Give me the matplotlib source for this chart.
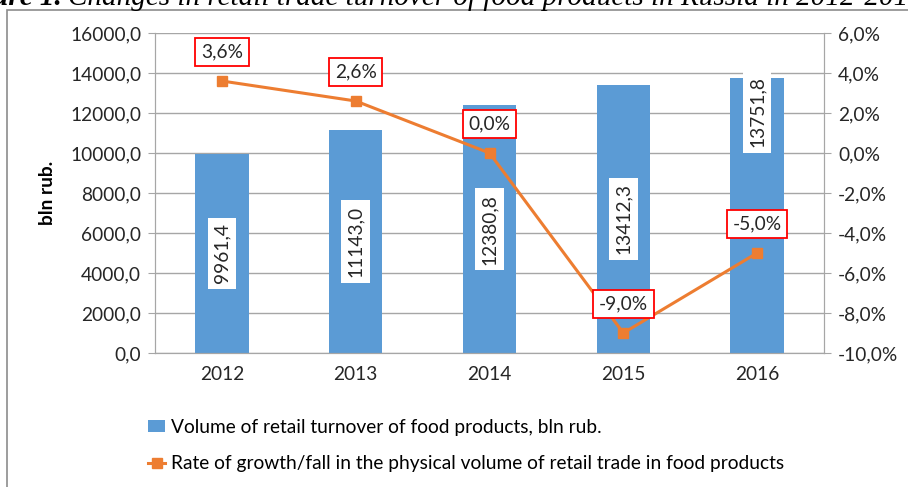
import matplotlib
matplotlib.use("Agg")
import matplotlib.pyplot as plt
from matplotlib.patches import Rectangle, Patch
from matplotlib.lines import Line2D

years = ["2012", "2013", "2014", "2015", "2016"]
volume = [9961.4, 11143.0, 12380.8, 13412.3, 13751.8]
volume_labels = ["9961,4", "11143,0", "12380,8", "13412,3", "13751,8"]
growth = [3.6, 2.6, 0.0, -9.0, -5.0]
growth_labels = ["3,6%", "2,6%", "0,0%", "-9,0%", "-5,0%"]
left_ticks = [0, 2000, 4000, 6000, 8000, 10000, 12000, 14000, 16000]
right_ticks = [-10, -8, -6, -4, -2, 0, 2, 4, 6]

FONT = "Lato"
FS = 13.8
plt.rcParams["font.family"] = [FONT, "DejaVu Sans"]

W, H = 908, 487
fig = plt.figure(figsize=(W / 100, H / 100), dpi=100)

# outer frame
fig.patches.append(Rectangle((7 / W, -0.05), 1.1, 1 - 10 / H + 0.05, transform=fig.transFigure,
                             fill=False, edgecolor="#8c8c8c", lw=1.2))
# clipped title
fig.text(62 / W, 1 - 5 / H, "Figure 1.", ha="right", va="baseline", fontsize=21,
         family="Liberation Serif", style="italic", weight="bold")
fig.text(68 / W, 1 - 5 / H, "Changes in retail trade turnover of food products in Russia in 2012-2016",
         ha="left", va="baseline", fontsize=21, family="Liberation Serif", style="italic")

ax = fig.add_axes([155 / W, 1 - 353 / H, (824 - 155) / W, 320 / H])
ax2 = ax.twinx()

x = list(range(len(years)))
ax.bar(x, volume, width=0.4, color="#5b9bd5", zorder=2)
ax.set_ylim(0, 16000)
ax.set_xlim(-0.5, 4.5)
ax.set_yticks(left_ticks)
ax.set_yticklabels([f"{v:.1f}".replace(".", ",") for v in left_ticks], fontsize=FS, color="#262626")
ax.set_xticks(x)
ax.set_xticklabels(years, fontsize=FS, color="#262626")
ax.tick_params(axis="x", length=0, pad=9)
ax.tick_params(axis="y", length=5, color="#a6a6a6", pad=5)
ax.grid(axis="y", color="#a6a6a6", lw=1, zorder=0)
ax.set_axisbelow(True)
for s in ["top"]:
    ax.spines[s].set_visible(False)
    ax2.spines[s].set_visible(False)
for s in ["left", "right", "bottom"]:
    ax.spines[s].set_color("#a6a6a6")
    ax2.spines[s].set_color("#a6a6a6")
ax.set_ylabel("bln rub.", fontsize=FS, weight="bold", labelpad=10)

label_pos = [v / 2 for v in volume]
label_pos[4] = 12050
for xi, yv, lab in zip(x, label_pos, volume_labels):
    ax.text(xi, yv, lab, rotation=90, ha="center", va="center", fontsize=FS, color="#262626",
            bbox=dict(boxstyle="square,pad=0.3", fc="white", ec="none"), zorder=3)

ax2.plot(x, growth, color="#ed7d31", lw=2.2, marker="s", markersize=7, zorder=4)
ax2.set_ylim(-10, 6)
ax2.set_yticks(right_ticks)
ax2.set_yticklabels([f"{v:.1f}%".replace(".", ",") for v in right_ticks], fontsize=FS, color="#262626")
ax2.tick_params(axis="y", length=5, color="#a6a6a6", pad=5)
for xi, yv, lab in zip(x, growth, growth_labels):
    ax2.annotate(lab, (xi, yv), xytext=(0, 21), textcoords="offset points", ha="center", va="center",
                 fontsize=FS, color="#262626",
                 bbox=dict(boxstyle="square,pad=0.3", fc="white", ec="#ff0000", lw=1.3), zorder=5)

handles = [Patch(facecolor="#5b9bd5", edgecolor="none"),
           Line2D([0], [0], color="#ed7d31", lw=2.2, marker="s", markersize=7)]
labels = ["Volume of retail turnover of food products, bln rub.",
          "Rate of growth/fall in the physical volume of retail trade in food products"]
fig.legend(handles, labels, loc="upper left", bbox_to_anchor=(148 / W, 1 - 419 / H), frameon=False,
           fontsize=FS, handlelength=0.9, handleheight=0.6, handletextpad=0.3, labelspacing=1.0,
           borderaxespad=0, borderpad=0)

fig.savefig("out.png", dpi=100)
